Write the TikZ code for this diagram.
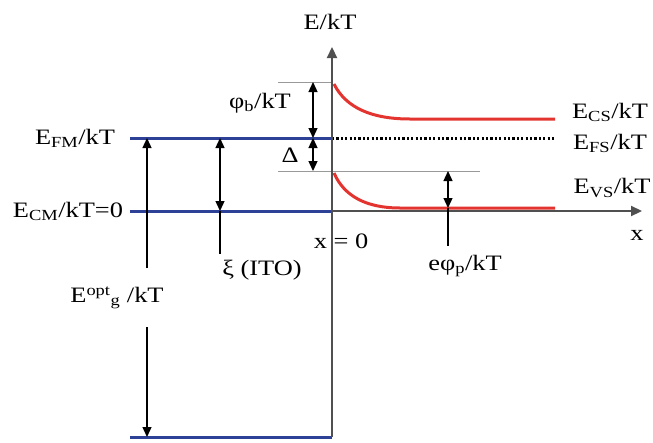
\documentclass[tikz,border=0pt]{standalone}
\usepackage{fontspec}
\setmainfont{Liberation Serif}[FakeStretch=1.2]
\usetikzlibrary{arrows.meta}

\definecolor{bandblue}{RGB}{45,65,150}
\definecolor{bandred}{RGB}{228,52,48}
\definecolor{axisgray}{RGB}{80,80,80}

\tikzset{
  lbl/.style={font=\fontsize{22}{26}\selectfont, inner sep=0pt},
  metal/.style={bandblue, line width=3pt},
  semi/.style={bandred, line width=3pt},
  axisline/.style={axisgray, line width=2.2pt, -{Triangle[length=11pt,width=10pt]}},
  guide/.style={gray!80, line width=0.8pt},
  dblarrow/.style={line width=1.3pt, {Triangle[length=10pt,width=9pt]}-{Triangle[length=10pt,width=9pt]}},
  onearrow/.style={line width=1.3pt, -{Triangle[length=10pt,width=9pt]}},
}

\begin{document}
\begin{tikzpicture}[x=1pt, y=-1pt, line join=round]
  \useasboundingbox (0,0) rectangle (653,442);
  \def\xa{332}   % interface, x = 0
  \def\xl{130}   % left end of the metal levels
  \def\xr{555}   % right end of the semiconductor levels
  \def\yfm{138}  % Fermi level
  \def\ycm{211}  % E_CM = 0 and the x axis
  \def\ybot{437} % bottom of the metal band
  \def\ytop{82}  % top of the barrier
  \def\ydel{171} % top of the valence bend

  \coordinate (O) at (\xa,\ycm);
  \coordinate (T) at (\xa,47);
  \coordinate (B) at (\xa,\ybot);
  \coordinate (X) at (642,\ycm);

  % metal side
  \draw[metal] (\xl,\yfm) -- (\xa,\yfm);
  \draw[metal] (\xl,\ycm) -- (\xa,\ycm);
  \draw[metal] (\xl,\ybot) -- (\xa,\ybot);

  % guide lines
  \draw[guide] (278,\ytop) -- (\xa,\ytop);
  \draw[guide] (278,\ydel) -- (480,\ydel);

  % semiconductor side
  \draw[black, line width=3pt, dash pattern=on 2.2pt off 2.2pt] (\xa,\yfm) -- (\xr,\yfm);
  \draw[semi] (334,84) .. controls (346,108) and (372,119) .. (410,119) -- (\xr,119);
  \draw[semi] (334,173) .. controls (344,196) and (366,208) .. (400,208) -- (\xr,208);

  % axes
  \draw[axisline] (B) -- (T);
  \draw[axisline] (O) -- (X);

  % phi_b and Delta
  \coordinate (A1) at (313,\ytop);
  \coordinate (A2) at (313,\yfm);
  \coordinate (A3) at (313,\ydel);
  \draw[dblarrow] (A1) -- (A2);
  \draw[dblarrow] (A2) -- (A3);

  % e phi_p
  \coordinate (P1) at (448,\ydel);
  \coordinate (P2) at (448,208);
  \coordinate (P3) at (448,246);
  \draw[dblarrow] (P1) -- (P2);
  \draw[line width=1.3pt] (P2) -- (P3);

  % xi (ITO)
  \coordinate (K1) at (220,\yfm);
  \coordinate (K2) at (220,\ycm);
  \coordinate (K3) at (220,254);
  \draw[dblarrow] (K1) -- (K2);
  \draw[line width=1.3pt] (K2) -- (K3);

  % optical gap
  \coordinate (G1) at (147,\yfm);
  \coordinate (G2) at (147,268);
  \coordinate (G3) at (147,327);
  \coordinate (G4) at (147,\ybot);
  \draw[onearrow] (G2) -- (G1);
  \draw[onearrow] (G3) -- (G4);

  % labels
  \node[lbl] (ekt) at (330,22) {E/kT};
  \node[lbl] (phib) at (260,103) {φ\textsubscript{b}/kT};
  \node[lbl] (del) at (290,155) {Δ};
  \node[lbl] (efm) at (75,138) {E\textsubscript{FM}/kT};
  \node[lbl] (ecm) at (68,211) {E\textsubscript{CM}/kT=0};
  \node[lbl] (ecs) at (610,112) {E\textsubscript{CS}/kT};
  \node[lbl] (efs) at (610,143) {E\textsubscript{FS}/kT};
  \node[lbl] (evs) at (612,188) {E\textsubscript{VS}/kT};
  \node[lbl] (xl) at (637,235) {x};
  \node[lbl] (x0) at (341,241) {x = 0};
  \node[lbl] (ephp) at (465,266) {eφ\textsubscript{p}/kT};
  \node[lbl] (xi) at (262,270) {ξ (ITO)};
  \node[lbl] (eg) at (117,298) {E\textsuperscript{opt}\textsubscript{g} /kT};
\end{tikzpicture}
\end{document}
